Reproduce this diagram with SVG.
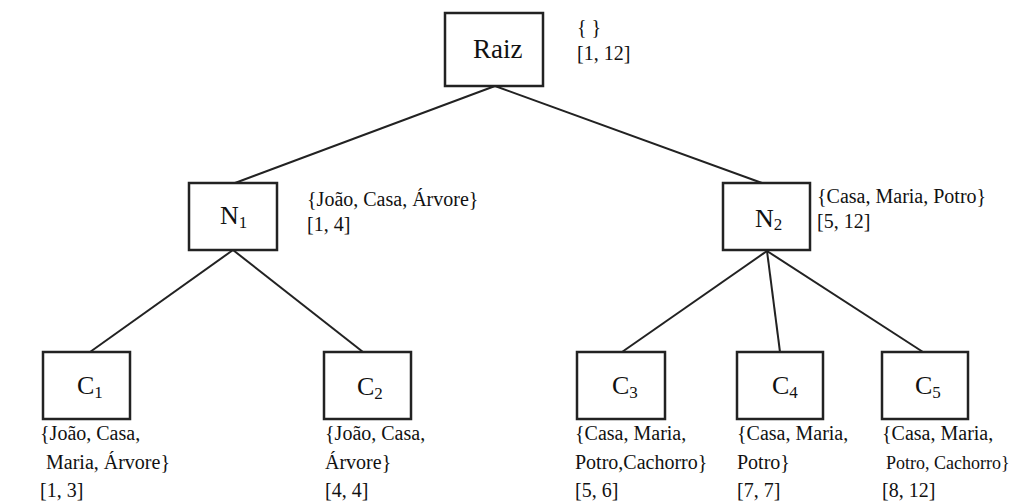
<svg xmlns="http://www.w3.org/2000/svg" width="1019" height="503" viewBox="0 0 1019 503">
<style>
.box{fill:#fff;stroke:#222;stroke-width:2.5}
.edge{stroke:#222;stroke-width:2;fill:none}
.nt{font-family:"Liberation Serif","Times New Roman",serif;font-size:26px;fill:#111}
.sub{font-size:17px}
.lb{font-family:"Liberation Serif","Times New Roman",serif;font-size:20px;fill:#111}
</style>
<rect width="1019" height="503" fill="#fff"/>
<g id="connectors">
<line class="edge" x1="495" y1="86" x2="235" y2="183"/>
<line class="edge" x1="495" y1="86" x2="762" y2="183"/>
<line class="edge" x1="233" y1="250" x2="90" y2="352"/>
<line class="edge" x1="233" y1="250" x2="363" y2="352"/>
<line class="edge" x1="767" y1="251" x2="622" y2="352"/>
<line class="edge" x1="767" y1="251" x2="780" y2="352"/>
<line class="edge" x1="767" y1="251" x2="923" y2="352"/>
</g>
<g id="raiz">
<rect class="box" x="445" y="13" width="98" height="73"/>
<text class="nt" x="473" y="58" style="font-size:27px">Raiz</text>
<text class="lb" x="577" y="34">{ }</text>
<text class="lb" x="577" y="60">[1, 12]</text>
</g>
<g id="n1">
<rect class="box" x="189" y="183" width="88" height="67"/>
<text class="nt" x="220" y="224">N<tspan class="sub" dy="4">1</tspan></text>
<text class="lb" x="307" y="206">{João, Casa, Árvore}</text>
<text class="lb" x="307" y="231">[1, 4]</text>
</g>
<g id="n2">
<rect class="box" x="723" y="183" width="87" height="67"/>
<text class="nt" x="755" y="227">N<tspan class="sub" dy="3">2</tspan></text>
<text class="lb" x="817" y="203">{Casa, Maria, Potro}</text>
<text class="lb" x="817" y="228">[5, 12]</text>
</g>
<g id="c1">
<rect class="box" x="43" y="352" width="87" height="67"/>
<text class="nt" x="77" y="394">C<tspan class="sub" dy="4">1</tspan></text>
<text class="lb" x="40" y="440">{João, Casa,</text>
<text class="lb" x="46" y="469">Maria, Árvore}</text>
<text class="lb" x="40" y="497">[1, 3]</text>
</g>
<g id="c2">
<rect class="box" x="324" y="352" width="87" height="67"/>
<text class="nt" x="357" y="395">C<tspan class="sub" dy="4">2</tspan></text>
<text class="lb" x="325" y="440">{João, Casa,</text>
<text class="lb" x="325" y="469">Árvore}</text>
<text class="lb" x="325" y="497">[4, 4]</text>
</g>
<g id="c3">
<rect class="box" x="577" y="352" width="88" height="67"/>
<text class="nt" x="612" y="394">C<tspan class="sub" dy="4">3</tspan></text>
<text class="lb" x="575" y="440">{Casa, Maria,</text>
<text class="lb" x="575" y="469">Potro,Cachorro}</text>
<text class="lb" x="575" y="497">[5, 6]</text>
</g>
<g id="c4">
<rect class="box" x="737" y="352" width="86" height="67"/>
<text class="nt" x="772" y="394">C<tspan class="sub" dy="4">4</tspan></text>
<text class="lb" x="737" y="440">{Casa, Maria,</text>
<text class="lb" x="737" y="469">Potro}</text>
<text class="lb" x="737" y="497">[7, 7]</text>
</g>
<g id="c5">
<rect class="box" x="882" y="352" width="86" height="67"/>
<text class="nt" x="915" y="394">C<tspan class="sub" dy="4">5</tspan></text>
<text class="lb" x="882" y="440">{Casa, Maria,</text>
<text class="lb" x="886" y="469" style="font-size:18px">Potro, Cachorro}</text>
<text class="lb" x="882" y="497">[8, 12]</text>
</g>
</svg>
